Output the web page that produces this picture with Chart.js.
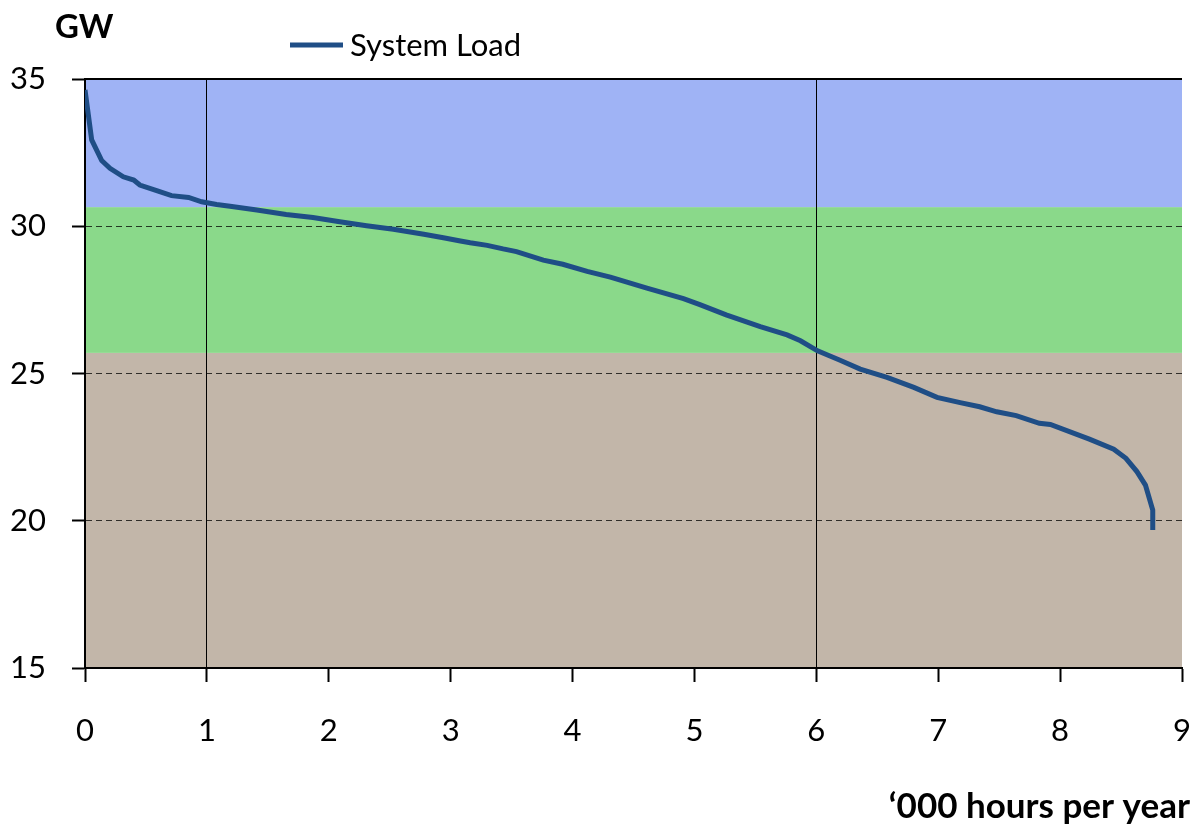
<!DOCTYPE html>
<html>
<head>
<meta charset="utf-8">
<script src="https://cdn.jsdelivr.net/npm/chart.js@4/dist/chart.umd.min.js"></script>
<style>
    html, body { margin: 0; padding: 0; background: #fff; overflow: hidden; }
    #wrap { width: 1193px; height: 832px; }
</style>
</head>
<body>
<div id="wrap"><canvas id="loadChart"></canvas></div>
<script>
// Load duration curve
var hours = [0, 0.055, 0.137, 0.205, 0.314, 0.40, 0.45, 0.588, 0.71, 0.85, 0.957, 1.08, 1.19, 1.41, 1.65, 1.87,
             2.09, 2.31, 2.53, 2.78, 2.94, 3.08, 3.16, 3.30, 3.43, 3.54, 3.76, 3.92, 4.12, 4.31, 4.61, 4.91,
             5.05, 5.26, 5.54, 5.76, 5.87, 6.01, 6.19, 6.36, 6.58, 6.80, 6.99, 7.18, 7.34, 7.48, 7.64, 7.83,
             7.92, 8.24, 8.44, 8.54, 8.63, 8.70, 8.76, 8.76];
var systemLoad = [34.63, 32.93, 32.23, 31.97, 31.68, 31.57, 31.40, 31.21, 31.04, 30.98, 30.83, 30.74, 30.68, 30.55, 30.40, 30.30,
                  30.15, 30.02, 29.90, 29.73, 29.61, 29.50, 29.44, 29.35, 29.23, 29.14, 28.85, 28.71, 28.47, 28.27, 27.90, 27.54,
                  27.33, 26.99, 26.59, 26.31, 26.11, 25.77, 25.46, 25.15, 24.87, 24.53, 24.19, 24.01, 23.87, 23.70, 23.57, 23.31,
                  23.27, 22.77, 22.43, 22.12, 21.67, 21.21, 20.36, 19.69];

// Background bands (GW limits, bottom to top)
var bandLimits = [15, 25.7, 30.65, 35];
var bandColors = ['#c2b6a9', '#8ad98a', '#9fb3f5'];

// Marker lines
var markerHours = [1, 6];
var dashedLoads = [20, 25, 30];

var xTicks = [0, 1, 2, 3, 4, 5, 6, 7, 8, 9];
var yTicks = [15, 20, 25, 30, 35];

var lineColor = '#1f4e86';
var fontFamily = 'Lato, "Open Sans", sans-serif';

var points = hours.map(function(h, i) { return { x: h, y: systemLoad[i] }; });

// Bands go under the grid, titles and legend on top
var decorPlugin = {
    id: 'decor',
    beforeDraw: function(chart) {
        var ctx = chart.ctx;
        var area = chart.chartArea;
        var y = chart.scales.y;
        ctx.save();
        for (var i = 0; i < bandColors.length; i++) {
            var top = y.getPixelForValue(bandLimits[i + 1]);
            var bottom = y.getPixelForValue(bandLimits[i]);
            ctx.fillStyle = bandColors[i];
            ctx.fillRect(area.left, top, area.right - area.left, bottom - top);
        }
        ctx.restore();
    },
    afterDraw: function(chart) {
        var ctx = chart.ctx;
        var area = chart.chartArea;
        ctx.save();

        // top border
        ctx.strokeStyle = '#000';
        ctx.lineWidth = 2;
        ctx.beginPath();
        ctx.moveTo(area.left, area.top);
        ctx.lineTo(area.right, area.top);
        ctx.stroke();

        // axis titles
        ctx.fillStyle = '#000';
        ctx.textBaseline = 'alphabetic';
        ctx.textAlign = 'left';
        ctx.font = 'bold 33px ' + fontFamily;
        ctx.fillText('GW', 55, 38);
        ctx.textAlign = 'right';
        ctx.font = 'bold 35px ' + fontFamily;
        ctx.fillText('\u2018000 hours per year', 1190, 818);

        // legend
        var ds = chart.data.datasets[0];
        ctx.strokeStyle = ds.borderColor;
        ctx.lineWidth = 5;
        ctx.beginPath();
        ctx.moveTo(290, 45);
        ctx.lineTo(343, 45);
        ctx.stroke();
        ctx.font = '31px ' + fontFamily;
        ctx.textAlign = 'left';
        ctx.textBaseline = 'middle';
        ctx.fillText(ds.label, 350, 46);
        ctx.restore();
    }
};

new Chart(document.getElementById('loadChart'), {
    type: 'line',
    data: {
        datasets: [{
            label: 'System Load',
            data: points,
            borderColor: lineColor,
            borderWidth: 5,
            pointRadius: 0,
            tension: 0,
            fill: false
        }]
    },
    options: {
        responsive: true,
        maintainAspectRatio: false,
        animation: false,
        layout: { padding: { left: 0, right: 11, top: 79, bottom: 0 } },
        plugins: {
            legend: { display: false },
            tooltip: { enabled: false }
        },
        scales: {
            x: {
                type: 'linear',
                min: 0,
                max: 9,
                afterBuildTicks: function(scale) {
                    scale.ticks = xTicks.map(function(v) { return { value: v }; });
                },
                afterFit: function(scale) {
                    scale.height = 164;
                    scale.paddingLeft = 0;
                    scale.paddingRight = 0;
                },
                border: { color: '#000', width: 2 },
                grid: {
                    color: function(c) {
                        return markerHours.indexOf(c.tick.value) > -1 ? '#000' : 'rgba(0,0,0,0)';
                    },
                    tickColor: '#000',
                    tickLength: 14,
                    lineWidth: 1,
                    tickWidth: 2
                },
                ticks: {
                    color: '#000',
                    padding: 30,
                    maxRotation: 0,
                    font: { family: fontFamily, size: 31 }
                }
            },
            y: {
                min: 15,
                max: 35,
                afterBuildTicks: function(scale) {
                    scale.ticks = yTicks.map(function(v) { return { value: v }; });
                },
                afterFit: function(scale) {
                    scale.width = 85;
                    scale.paddingTop = 0;
                    scale.paddingBottom = 0;
                },
                border: { color: '#000', width: 2, dash: [6, 4] },
                grid: {
                    color: function(c) {
                        return dashedLoads.indexOf(c.tick.value) > -1 ? 'rgba(0,0,0,0.75)' : 'rgba(0,0,0,0)';
                    },
                    tickColor: '#000',
                    tickLength: 13,
                    tickWidth: 2,
                    lineWidth: 1
                },
                ticks: {
                    color: '#000',
                    padding: 26,
                    font: { family: fontFamily, size: 31 }
                }
            }
        }
    },
    plugins: [decorPlugin]
});
</script>
</body>
</html>
